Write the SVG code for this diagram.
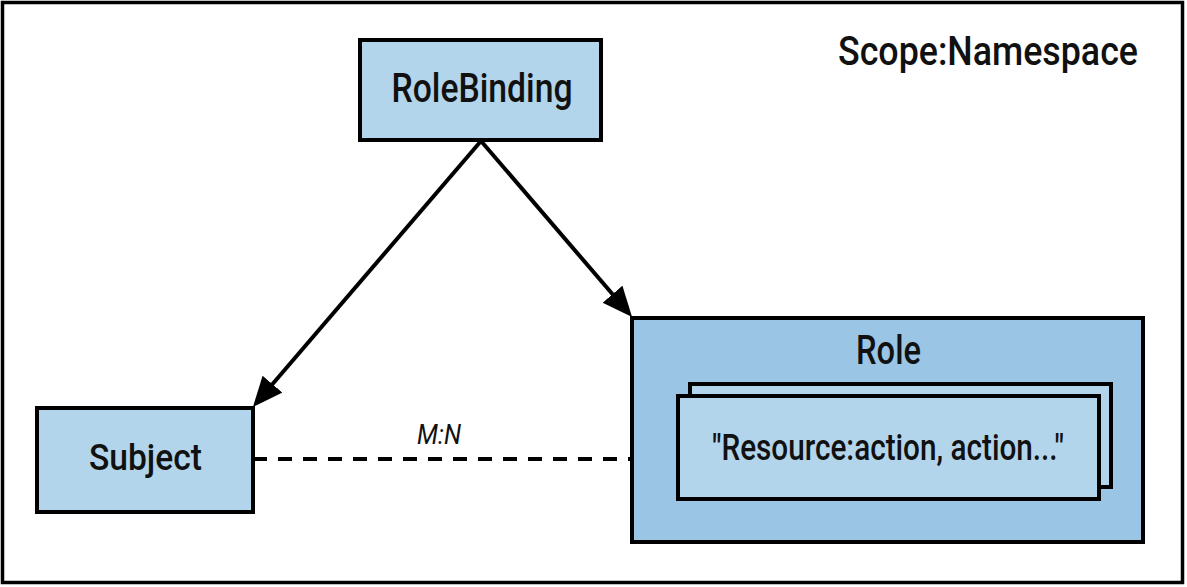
<svg xmlns="http://www.w3.org/2000/svg" width="1187" height="587" viewBox="0 0 1187 587">
  <style>
    .box { fill: #b3d5eb; stroke: #000; stroke-width: 4; }
    .role { fill: #9bc5e5; stroke: #000; stroke-width: 4; }
    .lbl { font-family: Roboto, "Liberation Sans", Arial, sans-serif; font-weight: 500; fill: #111; text-anchor: middle; }
    .em { font-family: Roboto, "Liberation Sans", Arial, sans-serif; font-weight: 400; font-style: italic; fill: #111; text-anchor: middle; }
    .edge { stroke: #000; stroke-width: 4; fill: none; }
  </style>
  <defs>
    <marker id="arrow" markerUnits="userSpaceOnUse" markerWidth="32" markerHeight="28" refX="9" refY="13" orient="auto">
      <path d="M0,0 L30,13 L0,26 z" fill="#000"/>
    </marker>
  </defs>
  <rect x="0" y="0" width="1187" height="587" fill="#fff"/>
  <g id="scope">
    <rect x="2.5" y="2.5" width="1180" height="580" fill="none" stroke="#000" stroke-width="3.5"/>
    <text class="lbl" x="988" y="65" font-size="41" textLength="300" lengthAdjust="spacingAndGlyphs">Scope:Namespace</text>
  </g>
  <g id="connectors">
    <line class="edge" x1="481" y1="141" x2="266.6" y2="391" marker-end="url(#arrow)"/>
    <line class="edge" x1="481" y1="141" x2="618.4" y2="301" marker-end="url(#arrow)"/>
    <line class="edge" x1="253" y1="459" x2="632" y2="459" stroke-dasharray="14 11" stroke-width="3.5"/>
    <text class="em" x="439" y="444" font-size="28" textLength="44" lengthAdjust="spacingAndGlyphs">M:N</text>
  </g>
  <g id="rolebinding">
    <rect class="box" x="360" y="40" width="241" height="100"/>
    <text class="lbl" x="482" y="102" font-size="40" textLength="181" lengthAdjust="spacingAndGlyphs">RoleBinding</text>
  </g>
  <g id="subject">
    <rect class="box" x="37" y="408" width="216" height="104"/>
    <text class="lbl" x="145.5" y="470" font-size="36" textLength="113" lengthAdjust="spacingAndGlyphs">Subject</text>
  </g>
  <g id="role">
    <rect class="role" x="632" y="318" width="511" height="224"/>
    <text class="lbl" x="888.5" y="364" font-size="40" textLength="65" lengthAdjust="spacingAndGlyphs">Role</text>
    <rect class="box" x="690" y="384" width="421" height="103"/>
    <rect class="box" x="678" y="396" width="421" height="103"/>
    <text class="lbl" x="888" y="460" font-size="36" textLength="352" lengthAdjust="spacingAndGlyphs">"Resource:action, action..."</text>
  </g>
</svg>
